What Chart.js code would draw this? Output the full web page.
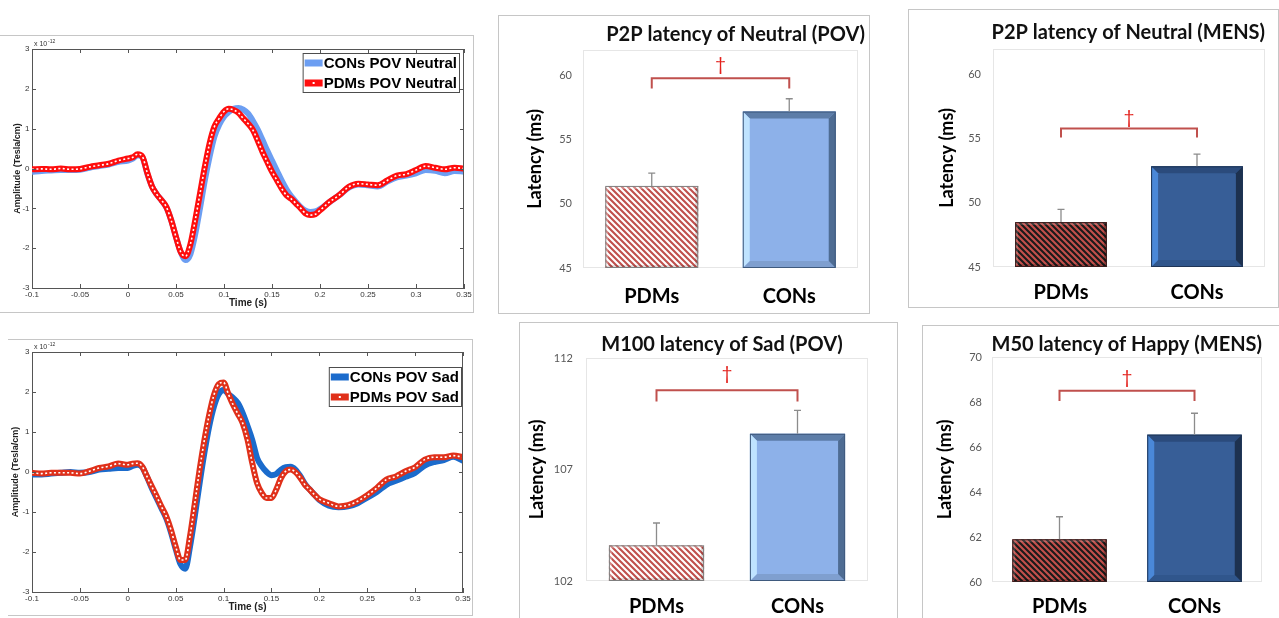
<!DOCTYPE html>
<html>
<head>
<meta charset="utf-8">
<title>MEG waveforms and latencies</title>
<script src="https://cdn.jsdelivr.net/npm/chart.js"></script>
<style>
  body { margin: 0; background: #fff; width: 1279px; height: 618px; overflow: hidden; position: relative; }
  .frame { position: absolute; border: 1px solid #c6c6c6; box-sizing: border-box; }
  .box { position: absolute; }
</style>
</head>
<body>
<div class="frame" style="left:0;top:35px;width:474px;height:278px;border-left:none"></div>
<div class="frame" style="left:8px;top:339px;width:465px;height:277px;border-left:none"></div>
<div class="frame" style="left:498px;top:15px;width:372px;height:299px"></div>
<div class="frame" style="left:908px;top:9px;width:371px;height:299px"></div>
<div class="frame" style="left:519px;top:322px;width:379px;height:310px"></div>
<div class="frame" style="left:922px;top:325px;width:370px;height:310px"></div>

<div class="box" style="left:0;top:35px;width:475px;height:280px"><canvas id="neutralWave"></canvas></div>
<div class="box" style="left:0;top:339px;width:475px;height:278px"><canvas id="sadWave"></canvas></div>
<div class="box" style="left:499px;top:16px;width:366px;height:296px"><canvas id="p2pPov"></canvas></div>
<div class="box" style="left:909px;top:10px;width:356px;height:296px"><canvas id="p2pMens"></canvas></div>
<div class="box" style="left:520px;top:323px;width:404px;height:295px"><canvas id="m100Pov"></canvas></div>
<div class="box" style="left:923px;top:326px;width:339px;height:292px"><canvas id="m50Mens"></canvas></div>

<script>
// time axis of the averaged waveforms (s)
const timeS = [-0.1, -0.09, -0.08, -0.07, -0.06, -0.05, -0.04, -0.03, -0.02, -0.01, 0,
  0.005, 0.01, 0.015, 0.02, 0.025, 0.03, 0.035, 0.04, 0.045, 0.05,
  0.055, 0.06, 0.065, 0.07, 0.075, 0.08, 0.085, 0.09, 0.095, 0.1,
  0.105, 0.11, 0.115, 0.12, 0.125, 0.13, 0.135, 0.14, 0.145, 0.15,
  0.155, 0.16, 0.165, 0.17, 0.175, 0.18, 0.185, 0.19, 0.195, 0.2,
  0.21, 0.22, 0.23, 0.24, 0.25, 0.26, 0.27, 0.28, 0.29, 0.3, 0.31, 0.32, 0.33, 0.34, 0.35];

// amplitudes in units of 10^-12 Tesla/cm
const neutralCONs = [-0.08, -0.06, -0.05, -0.04, -0.04, -0.03, 0.02, 0.06, 0.1, 0.17, 0.2,
  0.25, 0.33, 0.28, -0.12, -0.45, -0.65, -0.8, -0.98, -1.3, -1.72,
  -2.1, -2.3, -2.15, -1.65, -1.0, -0.3, 0.3, 0.8, 1.1, 1.3,
  1.42, 1.5, 1.52, 1.48, 1.38, 1.2, 0.98, 0.72, 0.45, 0.2,
  -0.05, -0.3, -0.52, -0.7, -0.84, -0.97, -1.06, -1.09, -1.08, -1.02,
  -0.84, -0.67, -0.48, -0.4, -0.42, -0.45, -0.33, -0.22, -0.18, -0.12, -0.04, -0.06, -0.12, -0.06, -0.08];
const neutralPDMs = [-0.02, -0.01, -0.02, 0.0, -0.02, -0.01, 0.04, 0.08, 0.12, 0.2, 0.25,
  0.28, 0.36, 0.3, -0.1, -0.45, -0.65, -0.8, -0.97, -1.3, -1.72,
  -2.1, -2.2, -1.9, -1.3, -0.63, 0.04, 0.63, 1.05, 1.26, 1.43,
  1.5, 1.47, 1.4, 1.26, 1.13, 0.97, 0.71, 0.42, 0.17, -0.08,
  -0.29, -0.5, -0.67, -0.76, -0.88, -1.0, -1.13, -1.17, -1.15, -1.05,
  -0.84, -0.67, -0.46, -0.38, -0.4, -0.42, -0.3, -0.18, -0.14, -0.04, 0.06, 0.02, -0.02, 0.02, 0.0];
const sadCONs = [-0.06, -0.06, -0.04, -0.02, 0.0, -0.02, 0.0, 0.06, 0.08, 0.1, 0.1,
  0.15, 0.18, 0.12, -0.12, -0.4, -0.65, -0.9, -1.15, -1.5, -1.92,
  -2.3, -2.42, -1.86, -1.1, -0.28, 0.48, 1.14, 1.64, 1.95, 2.05,
  1.95, 1.85, 1.72, 1.47, 1.15, 0.8, 0.35, 0.14, 0.0, -0.08,
  -0.05, 0.06, 0.12, 0.13, 0.06, -0.1, -0.3, -0.44, -0.57, -0.7,
  -0.84, -0.88, -0.86, -0.78, -0.64, -0.5, -0.32, -0.22, -0.12, -0.02, 0.16, 0.25, 0.3, 0.38, 0.28];
const sadPDMs = [-0.02, -0.04, -0.02, -0.02, -0.02, -0.04, 0.02, 0.1, 0.14, 0.21, 0.18,
  0.21, 0.22, 0.14, -0.11, -0.36, -0.6, -0.86, -1.1, -1.44, -1.86,
  -2.2, -2.2, -1.6, -0.78, 0.06, 0.8, 1.43, 1.93, 2.2, 2.24,
  1.95, 1.68, 1.45, 1.22, 0.81, 0.22, -0.28, -0.53, -0.65, -0.65,
  -0.44, -0.15, 0.02, 0.06, 0.0, -0.14, -0.32, -0.44, -0.57, -0.68,
  -0.78, -0.86, -0.83, -0.73, -0.58, -0.4, -0.19, -0.11, 0.02, 0.12, 0.31, 0.37, 0.37, 0.41, 0.37];

// group latencies (ms): mean and upper error
const groups = ['PDMs', 'CONs'];
const p2pNeutralPOV = [51.4, 57.2];
const p2pNeutralPOVErr = [1.0, 1.0];
const p2pNeutralMENS = [48.5, 52.85];
const p2pNeutralMENSErr = [1.0, 0.95];
const m100SadPOV = [103.6, 108.6];
const m100SadPOVErr = [1.0, 1.05];
const m50HappyMENS = [61.9, 66.55];
const m50HappyMENSErr = [1.0, 0.95];
// significance brackets: [bar level, leg end]
const bracketP2pPOV = [59.8, 59.0];
const bracketP2pMENS = [55.8, 55.1];
const bracketM100POV = [110.55, 110.05];
const bracketM50MENS = [68.5, 68.05];

const SANS = '"Liberation Sans", Arial, sans-serif';

function boxLegend(right, top) {
  return {
    id: 'boxLegend',
    afterDraw(chart) {
      const c = chart.ctx;
      const items = chart.data.datasets.filter(d => d.label);
      c.save();
      c.font = 'bold 15px ' + SANS;
      const tw = Math.max(...items.map(d => c.measureText(d.label).width));
      const w = tw + 24, h = items.length * 20, left = right - w;
      c.fillStyle = '#fff';
      c.fillRect(left, top, w, h);
      c.strokeStyle = '#4d4d4d';
      c.lineWidth = 1;
      c.strokeRect(left + 0.5, top + 0.5, w - 1, h - 1);
      items.forEach((d, i) => {
        const cy = top + 10 + i * 20;
        c.strokeStyle = d.borderColor;
        c.lineWidth = 7;
        c.beginPath(); c.moveTo(left + 2, cy); c.lineTo(left + 20, cy); c.stroke();
        if (d.dotted) { c.fillStyle = '#fff'; c.fillRect(left + 10, cy - 1, 2, 2); }
        c.fillStyle = '#000';
        c.textAlign = 'left';
        c.textBaseline = 'middle';
        c.fillText(d.label, left + 21, cy + 1);
      });
      c.restore();
    }
  };
}

// matlab style box: top/right edges, inward ticks, exponent
const matlabAxes = {
  id: 'matlabAxes',
  afterDatasetsDraw(chart) {
    const c = chart.ctx, a = chart.chartArea, x = chart.scales.x, y = chart.scales.y;
    c.save();
    c.strokeStyle = '#555';
    c.lineWidth = 1;
    c.beginPath();
    c.moveTo(a.left, a.top + 0.5); c.lineTo(a.right, a.top + 0.5);
    c.moveTo(a.right - 0.5, a.top); c.lineTo(a.right - 0.5, a.bottom);
    x.ticks.forEach(t => {
      const p = Math.round(x.getPixelForValue(t.value)) + 0.5;
      c.moveTo(p, a.bottom); c.lineTo(p, a.bottom - 4);
      c.moveTo(p, a.top); c.lineTo(p, a.top + 4);
    });
    y.ticks.forEach(t => {
      const p = Math.round(y.getPixelForValue(t.value)) + 0.5;
      c.moveTo(a.left, p); c.lineTo(a.left + 4, p);
      c.moveTo(a.right, p); c.lineTo(a.right - 4, p);
    });
    c.stroke();
    c.fillStyle = '#333';
    c.textAlign = 'left';
    c.textBaseline = 'alphabetic';
    c.font = '7px ' + SANS;
    c.fillText('x 10', a.left + 2, a.top - 3);
    c.font = '5px ' + SANS;
    c.fillText('-12', a.left + 16, a.top - 6);
    c.restore();
  }
};

function waveChart(id, o) {
  const pts = v => timeS.map((t, i) => ({ x: t, y: v[i] }));
  const line = { pointRadius: 0, cubicInterpolationMode: 'monotone' };
  return new Chart(document.getElementById(id), {
    type: 'line',
    data: {
      datasets: [
        { ...line, label: o.conLabel, data: pts(o.con), borderColor: o.conColor, borderWidth: 6, order: 3 },
        { ...line, label: o.pdmLabel, data: pts(o.pdm), borderColor: o.pdmColor, borderWidth: 6, order: 2, dotted: true },
        { ...line, label: '', data: pts(o.pdm), borderColor: '#fff', borderWidth: 1.6, borderDash: [2, 2.4], order: 1 }
      ]
    },
    options: {
      responsive: true,
      maintainAspectRatio: false,
      animation: false,
      layout: { padding: { top: o.top, right: o.right, left: 0, bottom: 0 } },
      plugins: { legend: { display: false }, tooltip: { enabled: false } },
      scales: {
        x: {
          type: 'linear', min: -0.1, max: 0.35,
          ticks: { stepSize: 0.05, autoSkip: false, maxRotation: 0, padding: 1.5, color: '#333',
            font: { family: SANS, size: 8 }, callback: v => String(Number(v.toFixed(2))) },
          grid: { display: false, drawTicks: false },
          border: { color: '#555' },
          title: { display: true, text: 'Time (s)', color: '#222', font: { family: SANS, size: 10, weight: 'bold' },
            padding: { top: 0, bottom: o.xTitlePad } },
          afterFit: s => { s.height = o.xH; }
        },
        y: {
          min: -3, max: 3,
          ticks: { stepSize: 1, padding: 2.5, color: '#333', font: { family: SANS, size: 8 } },
          grid: { display: false, drawTicks: false },
          border: { color: '#555' },
          title: { display: true, text: 'Amplitude (Tesla/cm)', color: '#222', font: { family: SANS, size: 9, weight: 'bold' },
            padding: { top: o.yTitlePad, bottom: 0 } },
          afterFit: s => { s.width = 32; }
        }
      }
    },
    plugins: [matlabAxes, boxLegend(o.legRight, o.legTop)]
  });
}

waveChart('neutralWave', {
  con: neutralCONs, pdm: neutralPDMs, conLabel: 'CONs POV Neutral', pdmLabel: 'PDMs POV Neutral',
  conColor: '#6c9ef2', pdmColor: '#ff0d0d', top: 14, right: 11, xH: 27, xTitlePad: 6, yTitlePad: 12,
  legRight: 460, legTop: 18
});
waveChart('sadWave', {
  con: sadCONs, pdm: sadPDMs, conLabel: 'CONs POV Sad', pdmLabel: 'PDMs POV Sad',
  conColor: '#1b6bcc', pdmColor: '#e0301a', top: 13, right: 12, xH: 25, xTitlePad: 4, yTitlePad: 10,
  legRight: 462, legTop: 28
});

function hatch(bg, fg) {
  const s = 6, cv = document.createElement('canvas');
  cv.width = s; cv.height = s;
  const c = cv.getContext('2d');
  c.fillStyle = bg; c.fillRect(0, 0, s, s);
  c.strokeStyle = fg; c.lineWidth = 2.1;
  c.beginPath();
  for (let k = -1; k <= 1; k++) { c.moveTo(k * s - 1, -1); c.lineTo(k * s + s + 1, s + 1); }
  c.stroke();
  return c.createPattern(cv, 'repeat');
}

function bevel(c, L, R, T, B, s, col) {
  const poly = (p, f) => {
    c.beginPath(); c.moveTo(p[0][0], p[0][1]);
    for (let i = 1; i < p.length; i++) c.lineTo(p[i][0], p[i][1]);
    c.closePath(); c.fillStyle = f; c.fill();
  };
  poly([[L, T], [R, T], [R - s, T + s], [L + s, T + s]], col.top);
  poly([[L, B], [R, B], [R - s, B - s], [L + s, B - s]], col.bottom);
  poly([[L, T], [L + s, T + s], [L + s, B - s], [L, B]], col.left);
  poly([[R, T], [R - s, T + s], [R - s, B - s], [R, B]], col.right);
  c.strokeStyle = col.edge; c.lineWidth = 1;
  c.strokeRect(L + 0.5, T + 0.5, R - L - 1, B - T - 1);
}

function decor(o) {
  return {
    id: 'decor',
    beforeDatasetsDraw(chart) {
      const a = chart.chartArea, c = chart.ctx;
      c.save(); c.strokeStyle = '#e6e6e6'; c.lineWidth = 1;
      c.strokeRect(a.left + 0.5, a.top + 0.5, a.width - 1, a.height - 1);
      c.restore();
    },
    afterDatasetsDraw(chart) {
      const c = chart.ctx, y = chart.scales.y, bars = chart.getDatasetMeta(0).data;
      const floor = chart.chartArea.bottom;
      c.save();
      bars.forEach((b, i) => {
        const p = b.getProps(['x', 'y', 'base', 'width'], true);
        bevel(c, p.x - p.width / 2, p.x + p.width / 2, p.y, Math.min(p.base, floor), o.bevels[i].size, o.bevels[i]);
      });
      c.strokeStyle = '#8c8c8c'; c.lineWidth = 1.3;
      bars.forEach((b, i) => {
        const y0 = y.getPixelForValue(o.values[i]), y1 = y.getPixelForValue(o.values[i] + o.errors[i]);
        c.beginPath(); c.moveTo(b.x, y0); c.lineTo(b.x, y1);
        c.moveTo(b.x - 3.5, y1); c.lineTo(b.x + 3.5, y1); c.stroke();
      });
      const yb = y.getPixelForValue(o.bracket[0]), yl = y.getPixelForValue(o.bracket[1]);
      c.strokeStyle = '#c0504d'; c.lineWidth = 2;
      c.beginPath();
      c.moveTo(bars[0].x, yl); c.lineTo(bars[0].x, yb); c.lineTo(bars[1].x, yb); c.lineTo(bars[1].x, yl);
      c.stroke();
      c.fillStyle = '#e3211c'; c.font = '19px Lato'; c.textAlign = 'center'; c.textBaseline = 'middle';
      c.fillText('\u2020', (bars[0].x + bars[1].x) / 2, yb - o.daggerUp);
      c.restore();
    }
  };
}

const povCON = { size: 7, top: '#5d7da8', bottom: '#7f9fcf', left: '#bfe3ff', right: '#4e6c93', edge: '#3f5a7e' };
const mensCON = { size: 7, top: '#2b4b7c', bottom: '#30568c', left: '#4a88d8', right: '#1d314f', edge: '#1f3556' };
const povPDM = { size: 3, top: 'rgba(255,255,255,0.3)', bottom: 'rgba(0,0,0,0.12)', left: 'rgba(255,255,255,0.3)', right: 'rgba(0,0,0,0.15)', edge: '#7f7f7f' };
const mensPDM = { size: 3, top: 'rgba(255,255,255,0.15)', bottom: 'rgba(0,0,0,0.2)', left: 'rgba(255,255,255,0.15)', right: 'rgba(0,0,0,0.25)', edge: '#3a1d1d' };

function barChart(id, o) {
  return new Chart(document.getElementById(id), {
    type: 'bar',
    data: {
      labels: groups,
      datasets: [{
        data: o.values,
        backgroundColor: o.fills,
        borderWidth: 0,
        borderSkipped: false,
        barPercentage: o.barPct,
        categoryPercentage: 1
      }]
    },
    options: {
      responsive: true,
      maintainAspectRatio: false,
      animation: false,
      layout: { padding: 0 },
      plugins: {
        legend: { display: false },
        tooltip: { enabled: false },
        title: { display: true, text: o.title, align: o.titleAlign, color: '#111',
          font: { family: 'Lato', size: 20, weight: 'bold', lineHeight: 1.2 },
          padding: { top: o.titleTop, bottom: o.titleBottom } }
      },
      scales: {
        x: {
          grid: { display: false, drawTicks: false },
          border: { display: false },
          ticks: { color: '#000', padding: o.xPad, font: { family: 'Lato', size: 20, weight: 'bold' } },
          afterFit: s => { s.height = o.xH; }
        },
        y: {
          min: o.min, max: o.max,
          ticks: { stepSize: o.step, includeBounds: false, color: '#595959', padding: o.yTickPad, font: { family: 'Lato', size: 11 } },
          grid: { display: false, drawTicks: false },
          border: { display: false },
          title: { display: true, text: 'Latency (ms)', color: '#000', font: { family: 'Lato', size: 18, weight: 'bold' },
            padding: { top: o.yTitlePad, bottom: 0 } },
          afterFit: s => { s.width = o.yW; }
        },
        pad: {
          type: 'linear', position: 'right', display: o.padW > 0,
          grid: { display: false }, border: { display: false }, ticks: { display: false },
          afterFit: s => { s.width = o.padW; }
        }
      }
    },
    plugins: [decor(o)]
  });
}

const povHatch = hatch('#ffffff', '#c0504d');
const mensHatch = hatch('#c4504c', '#1a1a1a');

barChart('p2pPov', {
  title: 'P2P latency of Neutral (POV)', titleAlign: 'end', titleTop: 7, titleBottom: 3,
  values: p2pNeutralPOV, errors: p2pNeutralPOVErr, bracket: bracketP2pPOV, daggerUp: 13,
  fills: [povHatch, '#8db1e9'], bevels: [povPDM, povCON],
  min: 45, max: 62, step: 5, yW: 84, padW: 7, xH: 44, xPad: 17, yTickPad: 11, yTitlePad: 25, barPct: 0.676
});
barChart('p2pMens', {
  title: 'P2P latency of Neutral (MENS)', titleAlign: 'end', titleTop: 11, titleBottom: 4,
  values: p2pNeutralMENS, errors: p2pNeutralMENSErr, bracket: bracketP2pMENS, daggerUp: 11,
  fills: [mensHatch, '#375e97'], bevels: [mensPDM, mensCON],
  min: 45, max: 62, step: 5, yW: 84, padW: 0, xH: 39, xPad: 14, yTickPad: 12, yTitlePad: 27, barPct: 0.675
});
barChart('m100Pov', {
  title: 'M100 latency of Sad (POV)', titleAlign: 'center', titleTop: 10, titleBottom: 1,
  values: m100SadPOV, errors: m100SadPOVErr, bracket: bracketM100POV, daggerUp: 16,
  fills: [povHatch, '#8db1e9'], bevels: [povPDM, povCON],
  min: 102, max: 112, step: 5, yW: 66, padW: 56, xH: 37, xPad: 14, yTickPad: 13, yTitlePad: 6.2, barPct: 0.675
});
barChart('m50Mens', {
  title: 'M50 latency of Happy (MENS)', titleAlign: 'end', titleTop: 7, titleBottom: 0,
  values: m50HappyMENS, errors: m50HappyMENSErr, bracket: bracketM50MENS, daggerUp: 13,
  fills: [mensHatch, '#375e97'], bevels: [mensPDM, mensCON],
  min: 60, max: 70, step: 2, yW: 69, padW: 0, xH: 36, xPad: 13, yTickPad: 10, yTitlePad: 11, barPct: 0.70
});
</script>
</body>
</html>
